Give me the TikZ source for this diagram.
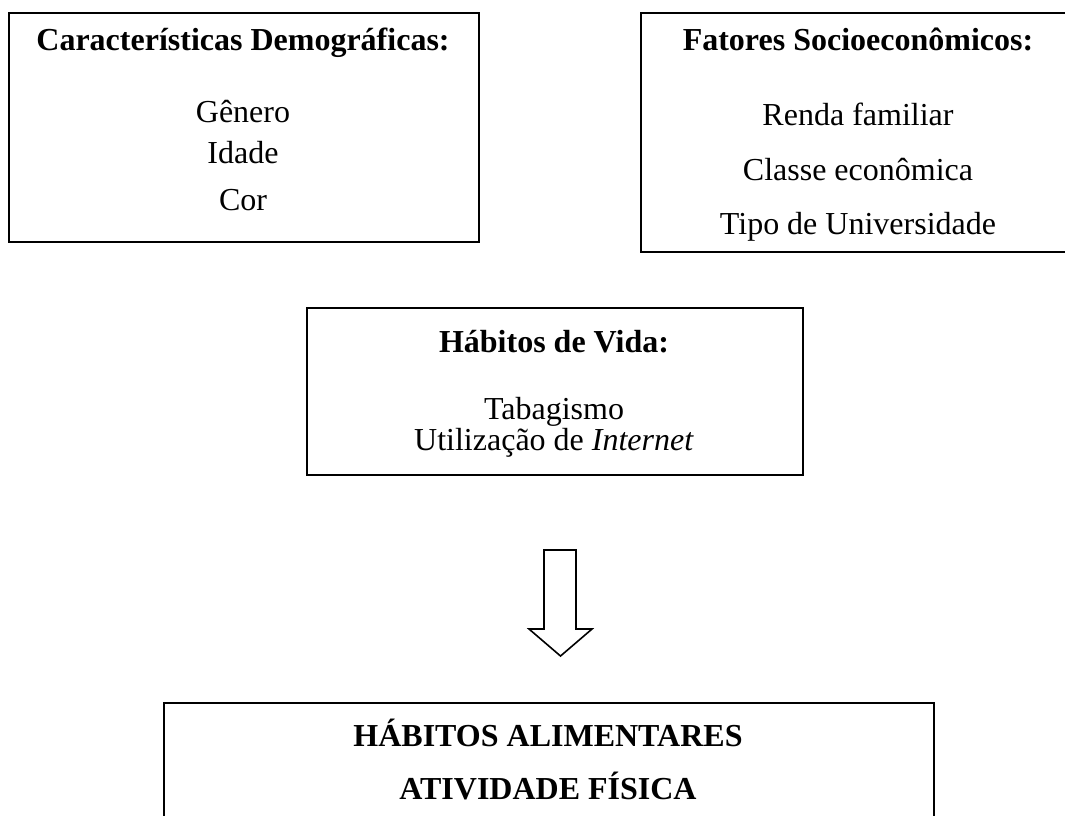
\documentclass[tikz,border=0pt]{standalone}
\usepackage{fontspec}
\setmainfont{Liberation Serif}
\begin{document}
\begin{tikzpicture}[x=1pt,y=-1pt,
  box/.style={draw=black, line width=1.8pt, minimum width=#1, anchor=north west, inner sep=0pt},
  txt/.style={anchor=base, inner sep=0pt, font=\fontsize{32}{38}\selectfont},
  head/.style={txt, font=\fontsize{32}{38}\selectfont\bfseries}]
\useasboundingbox (0,0) rectangle (1065,815);
\clip (0,0) rectangle (1065,815);
% boxes
\node[box=470pt, minimum height=229pt] (demo) at (8,12) {};
\node[box=436pt, minimum height=239pt] (socio) at (640,12) {};
\node[box=496pt, minimum height=167pt] (vida) at (306,307) {};
\node[box=770pt, minimum height=140pt] (out) at (163,702) {};
% texts box 1
\node[head] (demoT) at (243,50) {Características Demográficas:};
\node[txt] (d1) at (243,122) {Gênero};
\node[txt] (d2) at (243,163) {Idade};
\node[txt] (d3) at (243,210) {Cor};
% texts box 2
\node[head] (socioT) at (858,50) {Fatores Socioeconômicos:};
\node[txt] (s1) at (858,125) {Renda familiar};
\node[txt] (s2) at (858,180) {Classe econômica};
\node[txt] (s3) at (858,234) {Tipo de Universidade};
% texts box 3
\node[head] (vidaT) at (554,352) {Hábitos de Vida:};
\node[txt] (v1) at (554,419) {Tabagismo};
\node[txt] (v2) at (554,450) {Utilização de \textit{Internet}};
% bottom
\node[head] (o1) at (548,746) {HÁBITOS ALIMENTARES};
\node[head] (o2) at (548,799) {ATIVIDADE FÍSICA};
% block arrow
\coordinate (tip) at (560.5,656);
\draw[line width=1.6pt, line join=miter, fill=white]
  (544,550) -- (576,550) -- (576,629) -- (592,629) -- (tip) -- (529,629) -- (544,629) -- cycle;
\end{tikzpicture}
\end{document}
